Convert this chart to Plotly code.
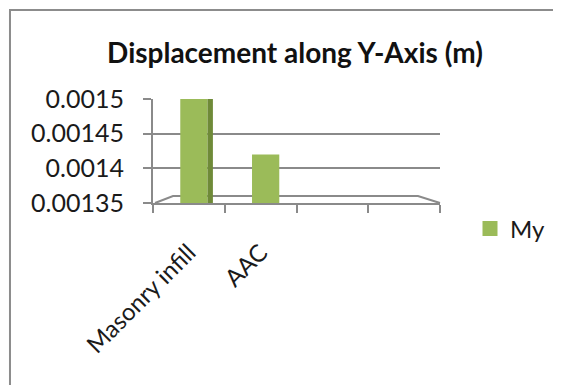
import plotly.graph_objects as go

categories = ["Masonry infill", "AAC", " ", "  "]
my_values = [0.0015, 0.00142, None, None]
side_visible = [1, 0, 0, 0]
y_tick_vals = [0.00135, 0.0014, 0.00145, 0.0015]
y_tick_text = ["0.00135", "0.0014", "0.00145", "0.0015"]

FONT = "Lato"
GRID = "#8a8a8a"
GREEN = "#9BBB59"
GREEN_DARK = "#6f8a38"

W, H = 553, 377          # page body has an 8px margin
L, T, PW, PH = 145, 91, 287, 104

def px(x):
    return (x - 8 - L) / PW

def py(y):
    return (T + PH - (y - 8)) / PH

fig = go.Figure()
fig.add_trace(go.Bar(
    x=categories, y=my_values, name="My", showlegend=False,
    marker=dict(color=GREEN, line=dict(width=0)),
    width=0.38, offset=-0.12,
))
fig.add_trace(go.Bar(
    x=categories, y=my_values, name="My side", showlegend=False,
    marker=dict(color=GREEN_DARK, opacity=side_visible, line=dict(width=0)),
    width=0.075, offset=0.26, hoverinfo="skip",
))
fig.add_trace(go.Scatter(
    x=[None], y=[None], mode="markers", name="My",
    marker=dict(symbol="square", size=15, color=GREEN),
))

floor = "M {:.4f} {:.4f} L {:.4f} {:.4f} L {:.4f} {:.4f} L {:.4f} {:.4f}".format(
    px(155), py(203), px(173), py(196), px(418), py(196), px(440), py(203))

fig.update_layout(
    width=W, height=H,
    margin=dict(l=L, r=W - L - PW, t=T, b=H - T - PH, autoexpand=False),
    paper_bgcolor="white", plot_bgcolor="white",
    barmode="overlay",
    font=dict(family=FONT, size=22, color="#1a1a1a"),
    title=dict(text="<b>Displacement along Y-Axis (m)</b>",
               x=(295 - 8) / W, xref="container", xanchor="center",
               y=1 - (53 - 8) / H, yref="container", yanchor="middle",
               font=dict(family=FONT, size=28, color="#111")),
    legend=dict(x=px(470), y=py(229), xanchor="left", yanchor="middle",
                font=dict(size=24), bgcolor="rgba(0,0,0,0)"),
    xaxis=dict(
        type="category", categoryorder="array", categoryarray=categories,
        showline=True, linecolor=GRID, linewidth=2,
        ticks="outside", tickson="boundaries", ticklen=8, tickcolor=GRID, tickwidth=2,
        tickangle=-45, ticklabelstandoff=24, showgrid=False,
        tickfont=dict(size=24), automargin=False,
    ),
    yaxis=dict(
        range=[0.00135, 0.0015], tickvals=y_tick_vals, ticktext=y_tick_text,
        showline=True, linecolor=GRID, linewidth=2,
        ticks="outside", ticklen=8, tickcolor=GRID, tickwidth=2,
        showgrid=True, gridcolor=GRID, gridwidth=2,
        ticklabelstandoff=14, tickfont=dict(size=25),
        zeroline=False, automargin=False,
    ),
    shapes=[
        dict(type="path", xref="paper", yref="paper",
             path="M {:.4f} {:.4f} L {:.4f} {:.4f} L {:.4f} {:.4f}".format(
                 px(10), py(390), px(10), py(10), px(561), py(10)),
             line=dict(color="#8c8c8c", width=2), layer="below"),
        dict(type="path", xref="paper", yref="paper", path=floor,
             line=dict(color=GRID, width=2), layer="below"),
    ],
)

fig.write_html("out.html")
